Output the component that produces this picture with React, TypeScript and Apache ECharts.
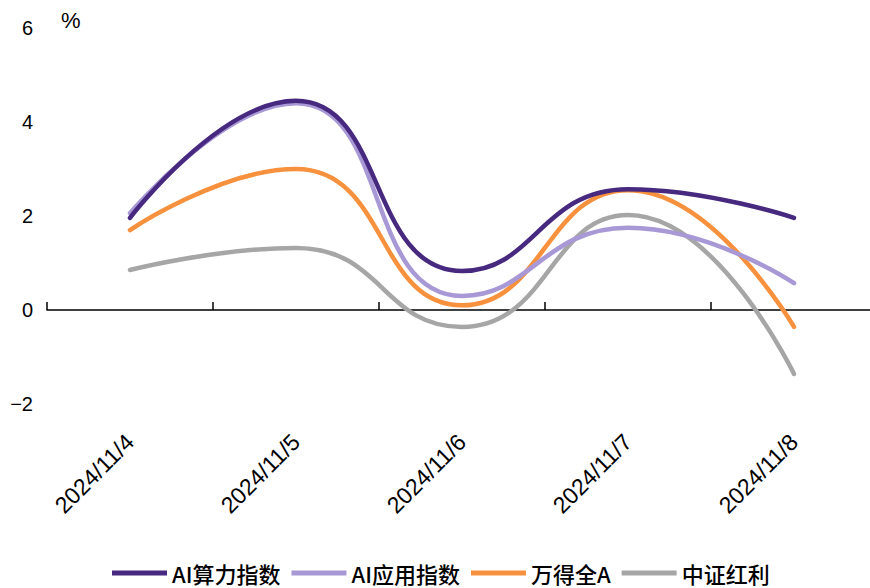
import React, { useEffect, useRef } from "react";
import * as echarts from "echarts";

const categories = ["2024/11/4", "2024/11/5", "2024/11/6", "2024/11/7", "2024/11/8"];
const aiCompute = [1.96, 4.45, 0.83, 2.57, 1.96];
const aiApp = [2.06, 4.4, 0.3, 1.75, 0.57];
const windA = [1.7, 3.0, 0.1, 2.55, -0.36];
const dividend = [0.85, 1.32, -0.36, 2.02, -1.36];
const seriesNames = ["AI算力指数", "AI应用指数", "万得全A", "中证红利"];
const colors = ["#47297f", "#a898d6", "#f7913d", "#a6a6a6"];
const yTicks = { min: -2, max: 6, interval: 2 };

export default function App() {
  const ref = useRef<HTMLDivElement>(null);
  useEffect(() => {
    document.body.style.margin = "0";
    const chart = echarts.init(ref.current!, null, { renderer: "svg" });
    const data = [aiCompute, aiApp, windA, dividend];
    chart.setOption({
      animation: false,
      backgroundColor: "#ffffff",
      grid: {
        left: 47,
        right: -7,
        top: 28,
        bottom: 184,
        containLabel: false,
        outerBoundsMode: "none",
      },
      legend: {
        top: 556,
        left: 107,
        icon: "rect",
        itemWidth: 55,
        itemHeight: 5,
        itemGap: 11,
        textStyle: {
          fontSize: 22,
          lineHeight: 24,
          color: "#000",
          fontFamily: "Noto Sans CJK SC",
          fontWeight: 500,
        },
        data: seriesNames,
      },
      graphic: [
        {
          type: "text",
          left: 61,
          top: 9,
          style: { text: "%", fontSize: 22, fill: "#000", fontFamily: "Liberation Sans" },
        },
      ],
      xAxis: {
        type: "category",
        data: categories,
        boundaryGap: true,
        axisLine: { onZero: true, lineStyle: { color: "#000", width: 1.5 } },
        axisTick: { show: true, inside: true, length: 8, lineStyle: { color: "#000", width: 1.5 } },
        axisLabel: {
          rotate: 45,
          margin: 34,
          fontSize: 23,
          color: "#000",
          fontFamily: "Liberation Sans",
          interval: 0,
        },
      },
      yAxis: {
        type: "value",
        min: yTicks.min,
        max: yTicks.max,
        interval: yTicks.interval,
        axisLine: { show: false },
        axisTick: { show: false },
        splitLine: { show: false },
        axisLabel: {
          margin: 14,
          fontSize: 20,
          color: "#000",
          fontFamily: "Liberation Sans",
          formatter: (v: number) => String(v).replace("-", "\u2212"),
        },
      },
      series: seriesNames.map((name, i) => ({
        name,
        type: "line",
        data: data[i],
        smooth: 0.5,
        showSymbol: false,
        symbol: "none",
        lineStyle: { color: colors[i], width: 4.5, cap: "round" },
        itemStyle: { color: colors[i] },
        z: 10 - i,
      })),
    });
    return () => chart.dispose();
  }, []);
  return <div ref={ref} style={{ width: 870, height: 588 }} />;
}
